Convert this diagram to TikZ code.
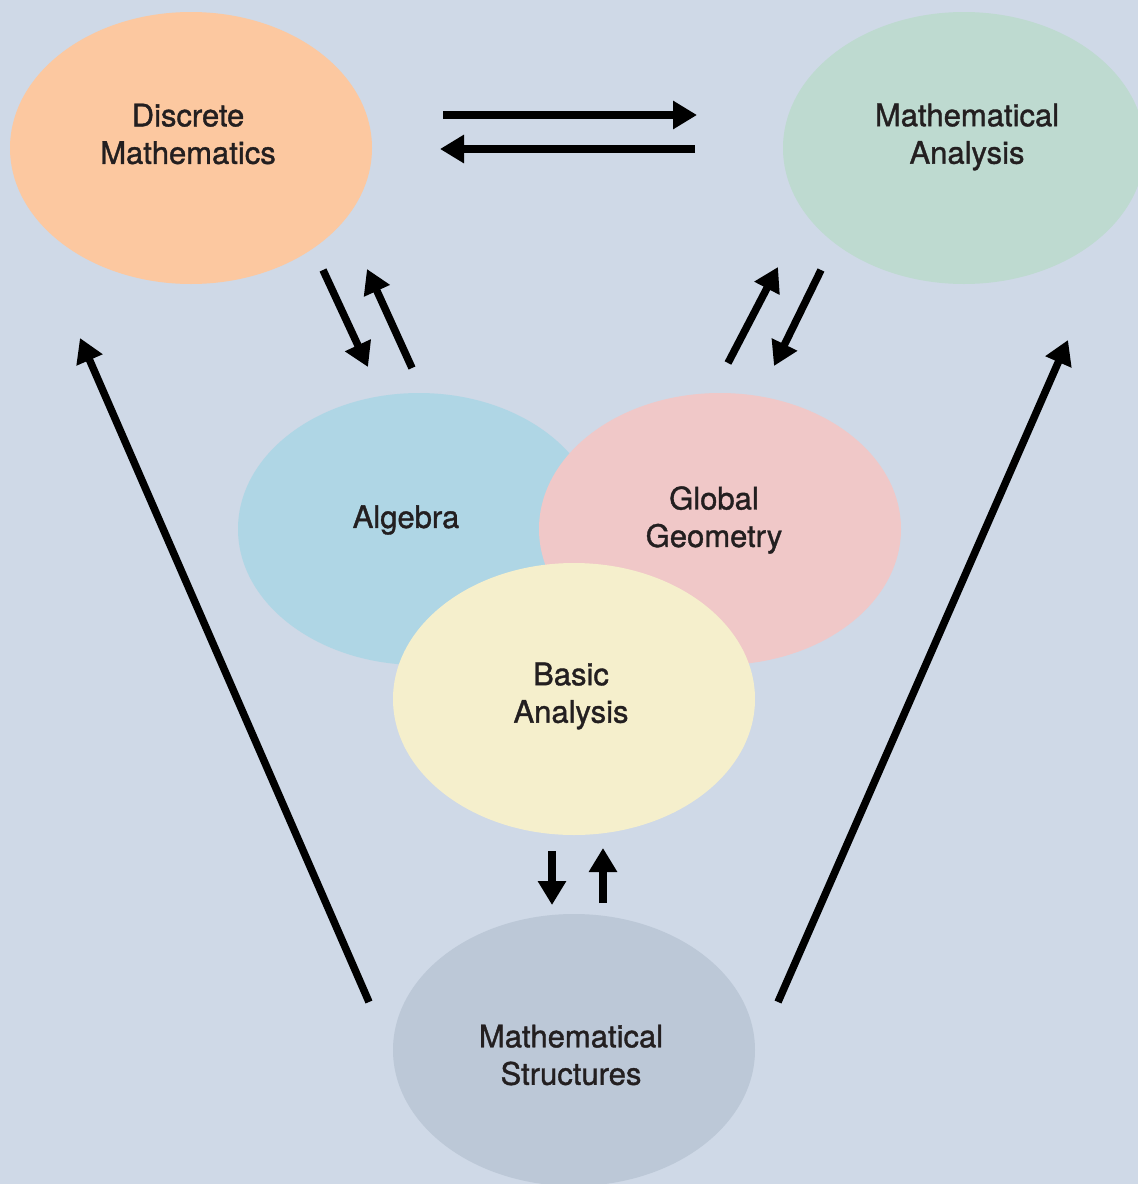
\documentclass[tikz,border=0pt]{standalone}
\usepackage{fontspec}
\setmainfont{TeX Gyre Heros}
\newfontfamily\ttlfont{TeX Gyre Heros}[FakeBold=1.2]
\usetikzlibrary{arrows.meta, positioning, shapes.geometric}
\definecolor{pagebg}{RGB}{207,217,231}
\definecolor{discpeach}{RGB}{252,200,160}
\definecolor{anagreen}{RGB}{190,218,208}
\definecolor{algblue}{RGB}{175,214,229}
\definecolor{geopink}{RGB}{240,200,200}
\definecolor{basicyel}{RGB}{245,239,204}
\definecolor{structgray}{RGB}{188,200,215}
\definecolor{ink}{RGB}{35,31,32}
\tikzset{
    % coloured topic bubble
    topic/.style={ellipse, minimum width=362pt, minimum height=272pt, inner sep=0pt},
    % topic name inside a bubble
    ttl/.style={align=center, text=ink, inner sep=0pt,
        font=\ttlfont\fontsize{31}{37.5}\selectfont},
    % heavy black arrows between topics
    link/.style={-{Triangle[length=24pt, width=27pt]}, line width=7.5pt},
}

\begin{document}
\begin{tikzpicture}[x=1pt, y=-1pt]

    % ---- page ----
    \path[use as bounding box, fill=pagebg] (0,0) rectangle (1138,1184);
    \clip (0,0) rectangle (1138,1184);

    % ---- top row ----
    \node[topic, fill=discpeach,
          label={[ttl, xshift=-3pt, yshift=14pt]center:{Discrete\\Mathematics}}]
        (disc) at (191,148) {};
    \node[topic, fill=anagreen,
          label={[ttl, xshift=3pt, yshift=11pt]center:{Mathematical\\Analysis}}]
        (ana) at (964,148) {};

    % ---- middle cluster ----
    \node[topic, fill=algblue,
          label={[ttl, xshift=-13pt, yshift=9pt]center:{Algebra}}]
        (alg) at (419,529) {};
    \node[topic, fill=geopink,
          label={[ttl, xshift=-6pt, yshift=9pt]center:{Global\\Geometry}}]
        (geo) at (720,529) {};
    \node[topic, fill=basicyel,
          label={[ttl, xshift=-3pt, yshift=3pt]center:{Basic\\Analysis}}]
        (basic) at (574,699) {};

    % ---- bottom ----
    \node[topic, fill=structgray,
          label={[ttl, xshift=-3pt, yshift=-5pt]center:{Mathematical\\Structures}}]
        (struct) at (574,1050) {};

    % arrow ends
    \coordinate (dmR) at (443,115);  \coordinate (maR) at (697,115);
    \coordinate (maL) at (695,149);  \coordinate (dmL) at (440,149);
    \coordinate (dmA) at (323,270);  \coordinate (alD) at (368,367);
    \coordinate (alU) at (412,368);  \coordinate (dmB) at (367,269);
    \coordinate (ggU) at (728,363);  \coordinate (maA) at (778,267);
    \coordinate (maB) at (821,270);  \coordinate (ggD) at (774,366);
    \coordinate (baD) at (552,851);  \coordinate (msD) at (552,905);
    \coordinate (msU) at (603,903);  \coordinate (baU) at (603,848);
    \coordinate (msL) at (369,1002); \coordinate (dmF) at (80,338);
    \coordinate (msR) at (778,1002); \coordinate (maF) at (1068,340);

    \draw[link] (dmR) -- (maR);
    \draw[link] (maL) -- (dmL);
    \draw[link] (dmA) -- (alD);
    \draw[link] (alU) -- (dmB);
    \draw[link] (ggU) -- (maA);
    \draw[link] (maB) -- (ggD);
    \draw[link] (baD) -- (msD);
    \draw[link] (msU) -- (baU);
    \draw[link] (msL) -- (dmF);
    \draw[link] (msR) -- (maF);

\end{tikzpicture}
\end{document}
